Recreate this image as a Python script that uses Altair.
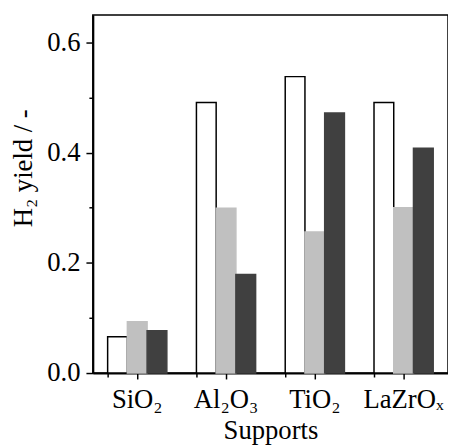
import altair as alt
import pandas as pd

supports = ["SiO₂", "Al₂O₃", "TiO₂", "LaZrOₓ"]
series = ["A", "B", "C"]
values_a = [0.066, 0.491, 0.538, 0.491]
values_b = [0.093, 0.299, 0.256, 0.300]
values_c = [0.077, 0.179, 0.472, 0.408]

rows = []
for i, s in enumerate(supports):
    for name, vals in zip(series, [values_a, values_b, values_c]):
        rows.append({"support": s, "series": name, "value": vals[i]})
df = pd.DataFrame(rows)

FONT = "Times New Roman, Liberation Serif, serif"
FS = 27
xscale = alt.Scale(domain=supports, paddingInner=1/3, paddingOuter=1/6)
yscale = alt.Scale(domain=[0, 0.65], nice=False)

bars = alt.Chart(df).mark_bar(strokeWidth=1.5).encode(
    x=alt.X("support:N", sort=supports, scale=xscale, title="Supports",
            axis=alt.Axis(labelAngle=0, labelFont=FONT, labelFontSize=FS, labelColor="black",
                          titleFont=FONT, titleFontSize=FS, titleFontWeight="normal", titleColor="black",
                          tickSize=6, tickWidth=1.5, tickColor="black", domainColor="black",
                          domainWidth=2, labelPadding=8, titlePadding=5, orient="bottom")),
    xOffset=alt.XOffset("series:N", sort=series),
    y=alt.Y("value:Q", scale=yscale, title="H₂ yield / -",
            axis=alt.Axis(values=[0, 0.1, 0.2, 0.3, 0.4, 0.5, 0.6], format=".1f",
                          labelExpr="round(datum.value*10) % 2 === 0 ? datum.label : ''",
                          tickSize={"condition": {"test": "round(datum.value*10) % 2 === 0", "value": 7}, "value": 4},
                          labelFont=FONT, labelFontSize=FS, labelColor="black",
                          titleFont=FONT, titleFontSize=FS, titleFontWeight="normal", titleColor="black",
                          titleX=-70, titleY=155, titleBaseline="middle", titleAlign="center", titleAngle=270,
                          tickWidth=1.5, tickColor="black", domainColor="black", domainWidth=2,
                          grid=False, labelPadding=6)),
    fill=alt.Fill("series:N", scale=alt.Scale(domain=series, range=["white", "#c0c0c0", "#404040"]), legend=None),
    stroke=alt.Stroke("series:N", scale=alt.Scale(domain=series, range=["black", "#c0c0c0", "#404040"]), legend=None),
)

minor = alt.Chart(pd.DataFrame({"support": supports})).mark_point(opacity=0).encode(
    x=alt.X("support:N", sort=supports, scale=xscale,
            axis=alt.Axis(orient="bottom", labels=False, title=None, bandPosition=0, tickSize=4,
                          tickWidth=1.5, tickColor="black", domain=False)),
)

chart = alt.layer(bars, minor).resolve_axis(x="independent").properties(
    width=360, height=363,
    autosize=alt.AutoSizeParams(type="none"),
    padding={"left": 86, "top": 4, "right": 0, "bottom": 76},
).configure_view(stroke="black", strokeWidth=1.5)

chart.save("out.html", embed_options={"renderer": "svg", "actions": False})
